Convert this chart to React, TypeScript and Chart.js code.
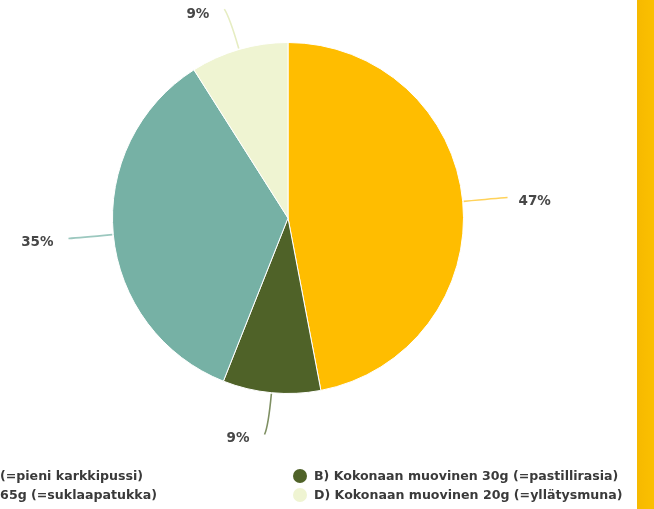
import React, { useEffect, useRef } from "react";
import { Chart, registerables } from "chart.js";

Chart.register(...registerables);

const categories = [
  "A) Kokonaan muovinen 50g (=pieni karkkipussi)",
  "B) Kokonaan muovinen 30g (=pastillirasia)",
  "C) Osittain muovia 65g (=suklaapatukka)",
  "D) Kokonaan muovinen 20g (=yllätysmuna)",
];
const values = [47, 9, 35, 9];
const percentLabels = ["47%", "9%", "35%", "9%"];
const colors = ["#FFBD00", "#4F6228", "#76B1A5", "#EFF4D2"];
const lineColors = ["#FFD25A", "#7E8F62", "#9CC8BF", "#E6EDC2"];

const FONT = "bold 13.5px 'DejaVu Sans', Arial, sans-serif";
const LEGEND_FONT = "bold 12.6px 'DejaVu Sans', Arial, sans-serif";
const TEXT = "#474747";
const LEGEND_TEXT = "#3a3a3a";

const labelPlugin = {
  id: "pieLabels",
  afterDatasetsDraw(chart: any) {
    const ctx = chart.ctx as CanvasRenderingContext2D;
    const meta = chart.getDatasetMeta(0);
    ctx.save();
    meta.data.forEach((arc: any, i: number) => {
      const { x, y, startAngle, endAngle, outerRadius } = arc.getProps(
        ["x", "y", "startAngle", "endAngle", "outerRadius"],
        true
      );
      const mid = (startAngle + endAngle) / 2;
      const dx = Math.cos(mid);
      const dy = Math.sin(mid);
      const len = 42;
      const sx = x + dx * (outerRadius + 1);
      const sy = y + dy * (outerRadius + 1);
      const side = dx >= 0 ? 1 : -1;
      const ex = x + dx * (outerRadius + len) + side * 3;
      const ey = y + dy * (outerRadius + len);
      const cx = x + dx * (outerRadius + len * 0.8);
      const cy = y + dy * (outerRadius + len * 0.8);
      ctx.strokeStyle = lineColors[i];
      ctx.lineWidth = 1.6;
      ctx.beginPath();
      ctx.moveTo(sx, sy);
      ctx.quadraticCurveTo(cx, cy, ex, ey);
      ctx.stroke();
      ctx.font = FONT;
      ctx.fillStyle = TEXT;
      ctx.textBaseline = "middle";
      const ty = ey + (dy < -0.5 ? 5 : 4);
      if (side > 0) {
        ctx.textAlign = "left";
        ctx.fillText(percentLabels[i], ex + 11, ty);
      } else {
        ctx.textAlign = "right";
        ctx.fillText(percentLabels[i], ex - 15, ty);
      }
    });
    ctx.restore();
  },
};

const legendPlugin = {
  id: "customLegend",
  afterDraw(chart: any) {
    const ctx = chart.ctx as CanvasRenderingContext2D;
    ctx.save();
    ctx.font = LEGEND_FONT;
    ctx.textBaseline = "middle";
    const rowY = [476, 495];
    // left column (partly outside the visible area)
    const leftEnds = [143, 157];
    [0, 2].forEach((idx, r) => {
      const w = ctx.measureText(categories[idx]).width;
      const tx = leftEnds[r] - w;
      ctx.fillStyle = colors[idx];
      ctx.beginPath();
      ctx.arc(tx - 14, rowY[r], 7, 0, Math.PI * 2);
      ctx.fill();
      ctx.fillStyle = LEGEND_TEXT;
      ctx.textAlign = "left";
      ctx.fillText(categories[idx], tx, rowY[r] + 1);
    });
    [1, 3].forEach((idx, r) => {
      ctx.fillStyle = colors[idx];
      ctx.beginPath();
      ctx.arc(300, rowY[r], 7, 0, Math.PI * 2);
      ctx.fill();
      ctx.fillStyle = LEGEND_TEXT;
      ctx.textAlign = "left";
      ctx.fillText(categories[idx], 314, rowY[r] + 1);
    });
    ctx.restore();
  },
};

export default function App() {
  const ref = useRef<HTMLCanvasElement | null>(null);
  useEffect(() => {
    if (!ref.current) return;
    const chart = new Chart(ref.current, {
      type: "pie",
      data: {
        labels: categories,
        datasets: [
          {
            data: values,
            backgroundColor: colors,
            borderColor: "#ffffff",
            borderWidth: 1,
          },
        ],
      },
      options: {
        animation: false,
        responsive: false,
        maintainAspectRatio: false,
        layout: { padding: { left: 112, right: 190, top: 42, bottom: 115 } },
        plugins: {
          legend: { display: false },
          tooltip: { enabled: false },
        },
      },
      plugins: [labelPlugin, legendPlugin],
    });
    return () => chart.destroy();
  }, []);
  return (
    <div
      style={{
        position: "fixed",
        left: 0,
        top: 0,
        width: 654,
        height: 509,
        overflow: "hidden",
        background: "#ffffff",
      }}
    >
      <canvas ref={ref} width={654} height={509} style={{ display: "block" }} />
      <div
        style={{
          position: "absolute",
          left: 637,
          top: 0,
          width: 17,
          height: 509,
          background: "linear-gradient(90deg, #F6B900, #FBC000)",
        }}
      />
    </div>
  );
}
